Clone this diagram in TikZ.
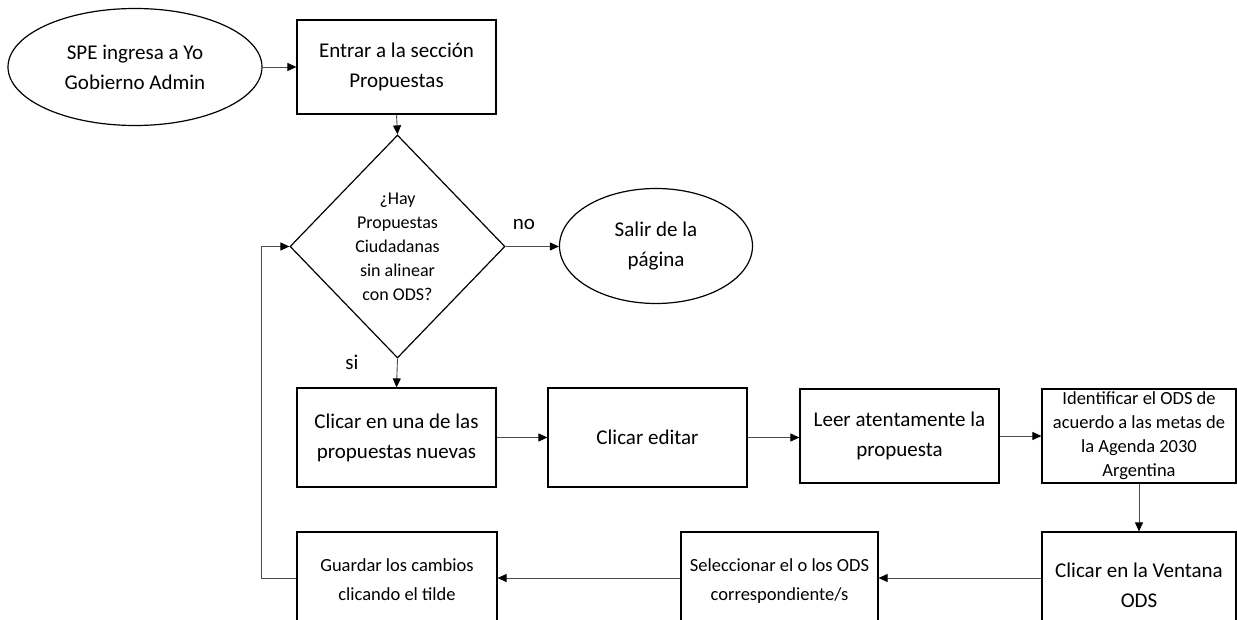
\documentclass[tikz,border=0pt]{standalone}
\usepackage{fontspec}
\setmainfont{Carlito}
\usetikzlibrary{shapes.geometric,arrows.meta,calc}
\begin{document}
\begin{tikzpicture}[x=1pt,y=-1pt,
  big/.style={font=\fontsize{21}{30}\selectfont},
  small/.style={font=\fontsize{18}{24}\selectfont},
  mid/.style={font=\fontsize{18.5}{24}\selectfont},
  box/.style={draw,line width=1.2pt,align=center,inner sep=0pt,big},
  oval/.style={draw,ellipse,line width=1.2pt,align=center,inner sep=0pt,big},
  dia/.style={draw,diamond,line width=1.2pt,inner sep=0pt,aspect=0.96},
  conn/.style={line width=0.9pt,draw=black!70,-{Triangle[length=9pt,width=8pt,color=black]}},
  lbl/.style={big,inner sep=0pt}
]
\useasboundingbox (0,0) rectangle (1237,620);
% nodes
\node[oval,minimum width=254pt,minimum height=117pt] (e1) at (135,67) {SPE ingresa a Yo\\Gobierno Admin};
\node[box,minimum width=199pt,minimum height=94pt] (b1) at (396.5,67) {Entrar a la sección\\Propuestas};
\node[dia,minimum width=215pt,minimum height=223pt] (d) at (397.5,246.5) {};
\node[small,align=center,inner sep=0pt] (dt) at (d.center) {¿Hay\\Propuestas\\Ciudadanas\\sin alinear\\con ODS?};
\node[oval,minimum width=193pt,minimum height=115pt] (e2) at (656,246) {Salir de la\\página};
\node[box,minimum width=199pt,minimum height=99pt] (b2) at (396.5,437.5) {Clicar en una de las\\propuestas nuevas};
\node[box,minimum width=199pt,minimum height=99pt] (b3) at (647.5,437.5) {Clicar editar};
\node[box,minimum width=199pt,minimum height=94pt] (b4) at (899.5,436) {Leer atentamente la\\propuesta};
\node[box,mid,minimum width=194pt,minimum height=94pt] (b5) at (1139,436) {Identificar el ODS de\\acuerdo a las metas de\\la Agenda 2030\\Argentina};
\node[box,minimum width=194pt,minimum height=106pt] (b6) at (1139,585) {Clicar en la Ventana\\ODS};
\node[box,font=\fontsize{18.5}{29}\selectfont,minimum width=197pt,minimum height=98pt] (b7) at (779.5,581) {Seleccionar el o los ODS\\correspondiente/s};
\node[box,font=\fontsize{18.5}{29}\selectfont,minimum width=200pt,minimum height=96pt] (b8) at (397,580) {Guardar los cambios\\clicando el tilde};
\node[lbl] (no) at (524,224) {no};
\node[lbl] (si) at (352,362) {si};
\coordinate (r3) at (0,578);
% connectors
\draw[conn] (e1.east) -- (e1.east -| b1.west);
\draw[conn] (b1.south) -- (d.north);
\draw[conn] (d.east) -- (d.east -| e2.west);
\draw[conn] (d.south) -- (b2.north);
\draw[conn] (b2.east) -- (b3.west);
\draw[conn] (b3.east) -- (b4.west |- b3.east);
\draw[conn] (b4.east) -- (b5.west);
\draw[conn] (b5.south) -- (b6.north);
\draw[conn] (b6.west |- r3) -- (b7.east |- r3);
\draw[conn] (b7.west |- r3) -- (b8.east |- r3);
\draw[conn] (b8.west |- r3) -- ++(-35,0) |- (d.west);
\end{tikzpicture}
\end{document}
